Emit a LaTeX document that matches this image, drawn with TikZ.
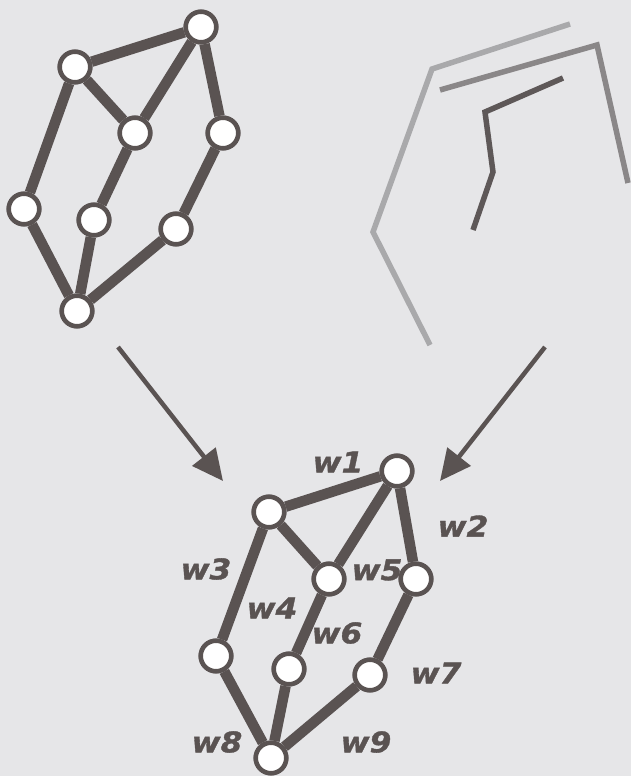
\documentclass[tikz,border=0pt]{standalone}
\usepackage{fontspec}
\setmainfont{DejaVu Sans}
\newfontfamily\lblfont[FakeStretch=1.1,FakeBold=1.2]{DejaVu Sans}
\usetikzlibrary{arrows.meta}
\definecolor{bg}{HTML}{E6E6E8}
\definecolor{ink}{HTML}{5A5352}
\definecolor{pathlight}{HTML}{A9A9AB}
\definecolor{pathmid}{HTML}{8A8788}
\definecolor{pathdark}{HTML}{5E5858}
\begin{document}
\begin{tikzpicture}[x=1pt,y=-1pt,
  vtx/.style={circle,draw=ink,line width=4.5pt,fill=white,minimum size=30.5pt,inner sep=0pt},
  edge/.style={draw=ink,line width=10.5pt},
  lbl/.style={font=\lblfont\fontsize{28.5}{28.5}\selectfont\bfseries\itshape,text=ink,inner sep=0pt},
  bigarrow/.style={draw=ink,line width=4.5pt,-{Triangle[length=31pt,width=29pt]}},
  trace/.style={line width=5.5pt,line join=miter}
]
\fill[bg] (0,0) rectangle (631,776);
\useasboundingbox (0,0) rectangle (631,776);

% top-left graph
\node[vtx] (a) at (201,27) {};
\node[vtx] (b) at (75,67) {};
\node[vtx] (c) at (135,133) {};
\node[vtx] (d) at (223,133) {};
\node[vtx] (e) at (24,209) {};
\node[vtx] (f) at (94,220) {};
\node[vtx] (g) at (176,229) {};
\node[vtx] (h) at (77,311) {};
\draw[edge] (a) -- (b) (a) -- (c) (a) -- (d) (b) -- (c) (b) -- (e)
  (c) -- (f) (d) -- (g) (e) -- (h) (f) -- (h) (g) -- (h);
\foreach \n in {a,b,c,d,e,f,g,h} \node[vtx] at (\n) {};

% top-right traces
\draw[trace,draw=pathlight] (570,24) -- (432,69) -- (373,232) -- (430,345);
\draw[trace,draw=pathmid] (440,90) -- (597,45) -- (628,183);
\draw[trace,draw=pathdark] (563,78) -- (485,112) -- (493,172) -- (473,230);

% arrows
\coordinate (l0) at (118,347);
\coordinate (l1) at (223,481);
\coordinate (r0) at (545,347);
\coordinate (r1) at (440,481);
\draw[bigarrow] (l0) -- (l1);
\draw[bigarrow] (r0) -- (r1);

% bottom graph
\node[vtx] (A) at (397,471) {};
\node[vtx] (B) at (269,512) {};
\node[vtx] (C) at (329,579) {};
\node[vtx] (D) at (416,579) {};
\node[vtx] (E) at (216,656) {};
\node[vtx] (F) at (289,669) {};
\node[vtx] (G) at (370,675) {};
\node[vtx] (H) at (271,758) {};
\draw[edge] (A) -- (B) (A) -- (C) (A) -- (D) (B) -- (C) (B) -- (E)
  (C) -- (F) (D) -- (G) (E) -- (H) (F) -- (H) (G) -- (H);
\foreach \n in {A,B,C,D,E,F,G,H} \node[vtx] at (\n) {};

% labels
\node[lbl] (w1) at (338,462) {w1};
\node[lbl] (w2) at (463,526) {w2};
\node[lbl] (w3) at (206,569) {w3};
\node[lbl] (w4) at (272,608) {w4};
\node[lbl] (w5) at (377,570) {w5};
\node[lbl] (w6) at (337,633) {w6};
\node[lbl] (w7) at (436,673) {w7};
\node[lbl] (w8) at (217,742) {w8};
\node[lbl] (w9) at (366,742) {w9};
\end{tikzpicture}
\end{document}
